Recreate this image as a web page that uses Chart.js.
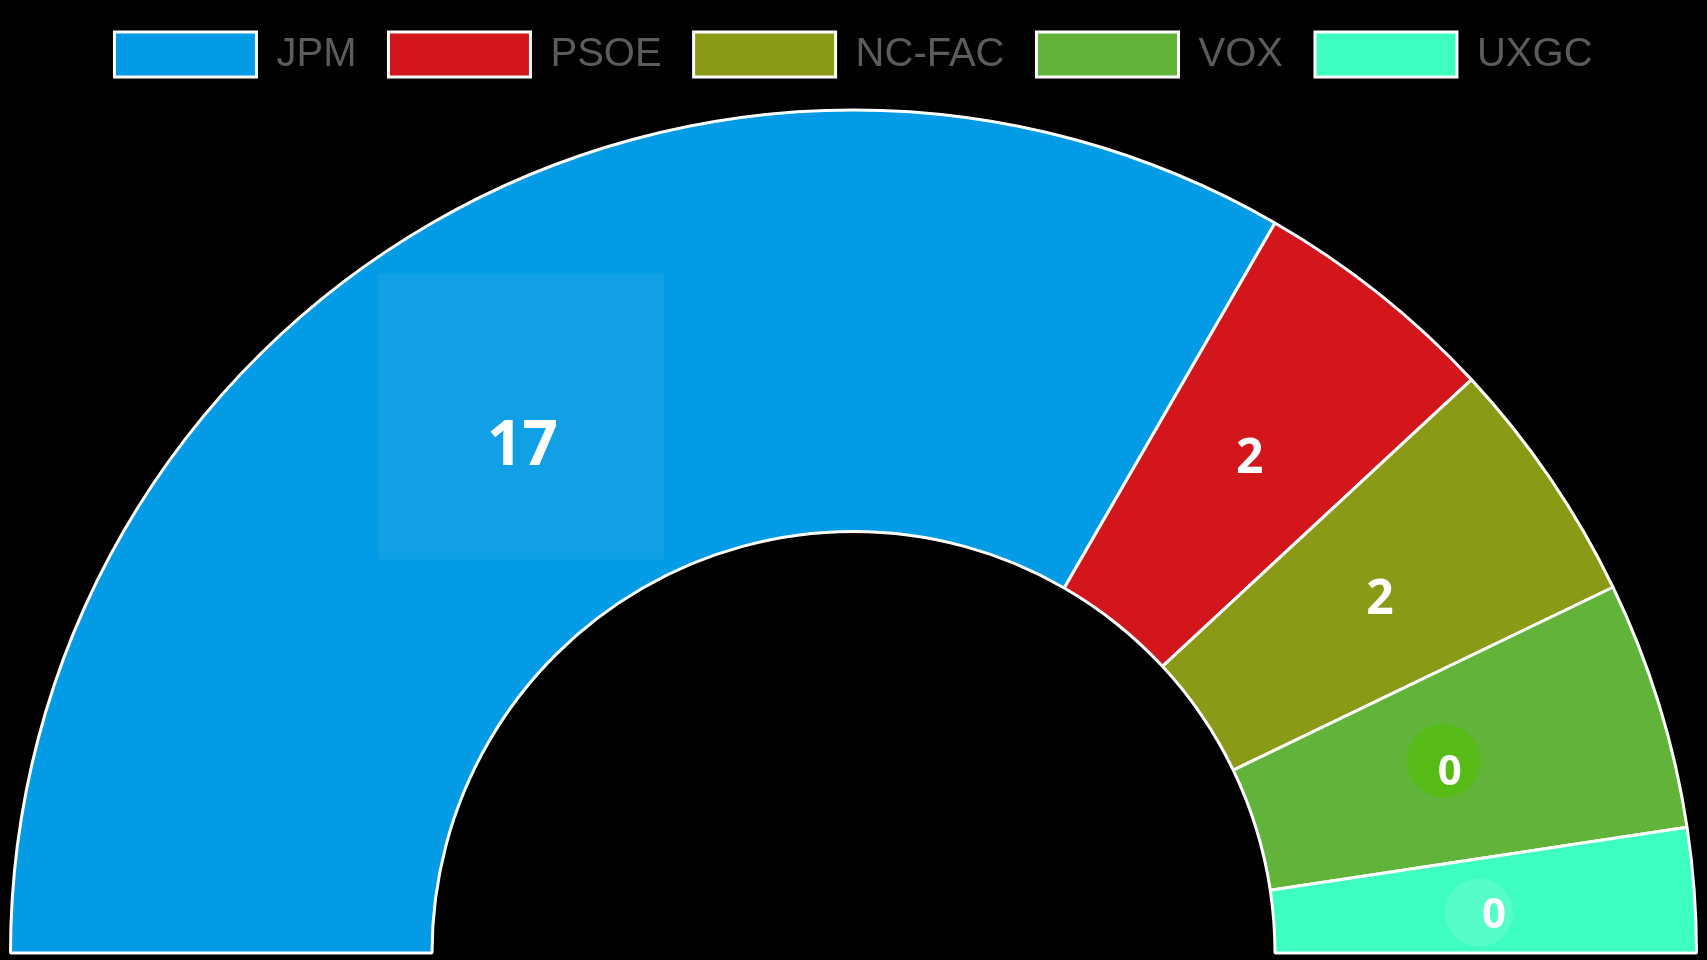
<!DOCTYPE html>
<html lang="es">
<head>
    <meta charset="UTF-8">
    <title>Reparto de escaños</title>
    <script src="https://cdn.jsdelivr.net/npm/chart.js"></script>
    <style>
        html, body {
            margin: 0;
            padding: 0;
            background: #000;
        }
        canvas {
            display: block;
        }
    </style>
</head>
<body>

<canvas id="seatsChart" width="1707" height="960"></canvas>

<script>
    // party names and colours
    const parties = ['JPM', 'PSOE', 'NC-FAC', 'VOX', 'UXGC'];
    const partyColors = ['#039be5', '#d2161c', '#8a9a16', '#62b33a', '#3dfdc0'];
    // size of each slice in the half ring
    const sliceValues = [14, 2, 2, 2, 1];
    // numbers printed on the slices
    const seatLabels = [17, 2, 2, 0, 0];

    // how each number is drawn (offset from the slice centre, font size, backdrop)
    const labelStyle = [
        { dx: -15, dy: 40, size: 62, back: { type: 'rect', dx: -1, dy: -29, r: 143, color: 'rgba(255,255,255,0.06)' } },
        { dx: 2, dy: -1, size: 48 },
        { dx: 4, dy: 1, size: 48 },
        { dx: -8, dy: 4, size: 42, back: { type: 'circle', dx: -6, dy: -10, r: 37, color: '#56bb16' } },
        { dx: 10, dy: 8, size: 42, back: { type: 'circle', dx: -15, dy: -1, r: 34, color: 'rgba(255,255,255,0.13)' } }
    ];

    // leave a bit more room under the legend
    const legendGap = {
        id: 'legendGap',
        beforeInit(chart) {
            const origFit = chart.legend.fit;
            chart.legend.fit = function () {
                origFit.bind(chart.legend)();
                this.height += 16;
            };
        }
    };

    const seatLabelPlugin = {
        id: 'seatLabels',
        afterDatasetsDraw(chart) {
            const ctx = chart.ctx;
            const meta = chart.getDatasetMeta(0);
            meta.data.forEach((arc, i) => {
                const pos = arc.tooltipPosition();
                const st = labelStyle[i];
                const x = pos.x + st.dx;
                const y = pos.y + st.dy;
                ctx.save();
                if (st.back) {
                    ctx.fillStyle = st.back.color;
                    const bx = x + st.back.dx;
                    const by = y + st.back.dy;
                    if (st.back.type === 'rect') {
                        ctx.fillRect(bx - st.back.r, by - st.back.r, st.back.r * 2, st.back.r * 2);
                    } else {
                        ctx.beginPath();
                        ctx.arc(bx, by, st.back.r, 0, Math.PI * 2);
                        ctx.fill();
                    }
                }
                ctx.fillStyle = '#ffffff';
                ctx.font = `700 ${st.size}px "Open Sans", sans-serif`;
                ctx.textAlign = 'center';
                ctx.textBaseline = 'middle';
                ctx.fillText(String(seatLabels[i]), x, y + 2);
                ctx.restore();
            });
        }
    };

    const ctx = document.getElementById('seatsChart').getContext('2d');
    new Chart(ctx, {
        type: 'doughnut',
        data: {
            labels: parties,
            datasets: [{
                data: sliceValues,
                backgroundColor: partyColors,
                borderColor: '#ffffff',
                borderWidth: 3,
                hoverBorderWidth: 3
            }]
        },
        options: {
            responsive: false,
            animation: false,
            rotation: -90,
            circumference: 180,
            cutout: '50%',
            layout: {
                padding: { left: 9, right: 9, bottom: 0 }
            },
            plugins: {
                legend: {
                    display: true,
                    position: 'top',
                    labels: {
                        boxWidth: 142,
                        boxHeight: 45,
                        padding: 32,
                        color: '#5c5c5c',
                        font: { family: '"Liberation Sans", Arial, sans-serif', size: 40 }
                    }
                },
                tooltip: { enabled: false }
            }
        },
        plugins: [legendGap, seatLabelPlugin]
    });
</script>

</body>
</html>
